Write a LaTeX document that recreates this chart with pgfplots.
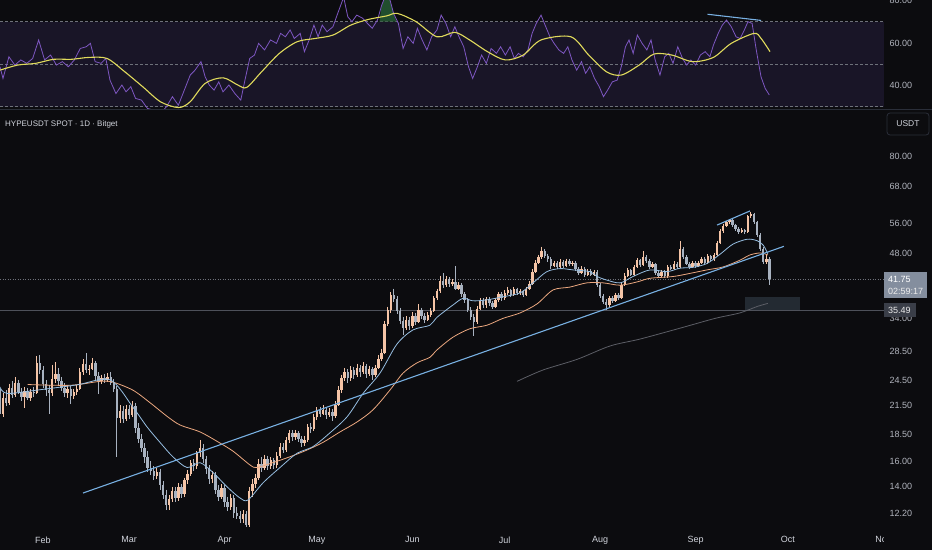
\documentclass[border=0pt]{standalone}
\usepackage{pgfplots}
\usepackage{pgfplotstable}
\pgfplotsset{compat=1.18}
\usepackage{fontspec}
\setmainfont{Liberation Sans}

\definecolor{bg}{RGB}{12,12,15}
\definecolor{upc}{RGB}{245,196,166}
\definecolor{dnc}{RGB}{168,178,192}
\definecolor{band}{RGB}{25,21,39}
\definecolor{rsic}{RGB}{126,87,194}
\definecolor{rsima}{RGB}{224,218,92}
\definecolor{tickc}{RGB}{178,181,190}
\definecolor{labc}{RGB}{209,212,220}
\definecolor{maone}{RGB}{150,190,225}
\definecolor{matwo}{RGB}{236,168,128}
\definecolor{mathree}{RGB}{92,94,102}
\definecolor{trend}{RGB}{120,176,226}
\definecolor{sepc}{RGB}{42,46,57}
\definecolor{lvl}{RGB}{110,113,122}
\definecolor{lvltwo}{RGB}{78,81,90}
\definecolor{zonec}{RGB}{40,48,57}
\definecolor{lastc}{RGB}{132,142,158}
\definecolor{boxtwo}{RGB}{58,62,72}
\definecolor{ob}{RGB}{36,86,50}

\pgfplotstableread{
d o h l c
-14 23.4 24.0 19.9 20.6
-13 20.6 22.9 20.2 22.4
-12 22.4 23.3 21.4 21.8
-11 21.8 24.1 21.5 23.6
-10 23.6 24.4 22.3 22.7
-9 22.7 25.0 22.5 24.2
-8 24.2 24.6 22.8 23.1
-7 23.1 23.6 22.0 22.5
-6 22.5 23.7 21.2 23.2
-5 23.2 23.6 22.1 22.4
-4 22.4 23.5 22.0 23.1
-3 23.1 23.7 22.5 23.0
-2 23.0 27.9 22.8 26.9
-1 26.9 28.0 25.4 25.9
0 25.9 26.4 23.6 24.1
1 24.1 24.6 22.6 23.3
2 23.3 24.0 20.6 22.9
3 22.9 26.6 22.6 24.7
4 24.7 27.0 24.2 25.4
5 25.4 26.2 24.0 24.5
6 24.5 25.0 23.2 23.6
7 23.6 24.2 22.5 22.9
8 22.9 23.9 22.4 23.4
9 23.4 23.8 21.7 22.6
10 22.6 23.5 22.2 23.1
11 23.1 24.0 22.7 23.5
12 23.5 26.2 23.3 25.7
13 25.7 27.4 25.3 26.7
14 26.7 28.3 25.5 25.9
15 25.9 26.6 25.2 26.1
16 26.1 27.6 25.9 26.9
17 26.9 27.2 24.5 25.1
18 25.1 25.6 22.8 24.5
19 24.5 25.3 24.1 24.9
20 24.9 25.4 24.2 24.6
21 24.6 25.5 24.3 25.0
22 25.0 25.6 23.9 24.2
23 24.2 24.7 23.1 23.5
24 23.5 23.8 16.4 20.1
25 20.1 21.5 19.6 20.9
26 20.9 21.4 19.6 20.0
27 20.0 21.6 19.8 21.1
28 21.1 21.5 20.0 20.4
29 20.4 22.0 20.2 21.4
30 21.4 21.8 18.6 19.1
31 19.1 19.6 17.6 18.0
32 18.0 18.5 16.8 17.2
33 17.2 17.6 15.9 16.4
34 16.4 16.9 15.1 15.5
35 15.5 16.0 14.9 15.2
36 15.2 15.6 14.5 14.8
37 14.8 15.5 14.6 15.1
38 15.1 15.4 13.8 14.1
39 14.1 14.4 13.1 13.4
40 13.4 13.8 12.4 12.7
41 12.7 13.4 12.4 13.1
42 13.1 14.0 12.9 13.7
43 13.7 14.0 12.9 13.2
44 13.2 14.3 13.0 14.0
45 14.0 14.2 13.2 13.5
46 13.5 14.7 13.3 14.5
47 14.5 15.3 14.2 15.0
48 15.0 16.1 14.8 15.9
49 15.9 16.2 15.2 15.6
50 15.6 16.9 15.4 16.7
51 16.7 17.9 16.4 17.2
52 17.2 17.5 15.9 16.2
53 16.2 16.5 15.0 15.4
54 15.4 15.7 14.2 14.6
55 14.6 15.2 14.3 14.9
56 14.9 15.1 13.5 13.8
57 13.8 14.1 13.0 13.3
58 13.3 14.2 13.1 13.9
59 13.9 14.1 12.6 12.9
60 12.9 13.3 12.3 12.6
61 12.6 13.5 12.4 13.2
62 13.2 13.4 11.9 12.2
63 12.2 12.6 11.8 12.0
64 12.0 12.3 11.6 11.8
65 11.8 12.4 11.6 12.1
66 12.1 12.3 11.3 11.45
67 11.45 14.0 11.3 13.7
68 13.7 14.6 13.3 14.2
69 14.2 15.0 13.9 14.7
70 14.7 16.2 14.5 15.8
71 15.8 16.4 15.1 15.5
72 15.5 16.6 15.3 16.2
73 16.2 16.5 15.3 15.6
74 15.6 16.4 15.4 16.1
75 16.1 16.3 15.4 15.7
76 15.7 16.8 15.5 16.5
77 16.5 17.6 16.3 17.3
78 17.3 17.6 16.7 17.0
79 17.0 18.2 16.8 17.9
80 17.9 18.9 17.6 18.6
81 18.6 18.9 17.8 18.2
82 18.2 18.9 17.9 18.6
83 18.6 18.8 17.7 18.0
84 18.0 18.3 17.3 17.6
85 17.6 18.3 17.4 17.9
86 17.9 19.5 17.7 19.2
87 19.2 19.6 18.6 19.0
88 19.0 20.6 18.8 20.2
89 20.2 21.3 19.9 21.0
90 21.0 21.3 20.2 20.6
91 20.6 21.6 20.4 21.0
92 21.0 21.2 20.0 20.4
93 20.4 21.2 20.2 20.8
94 20.8 21.1 19.8 20.3
95 20.3 22.0 20.1 21.6
96 21.6 23.8 21.4 23.3
97 23.3 25.3 23.0 24.8
98 24.8 26.2 24.4 25.6
99 25.6 26.0 24.2 24.8
100 24.8 26.4 24.5 25.9
101 25.9 26.3 24.7 25.2
102 25.2 26.8 25.0 26.2
103 26.2 26.6 25.0 25.6
104 25.6 27.0 25.4 26.4
105 26.4 26.7 24.9 25.4
106 25.4 26.5 25.1 26.0
107 26.0 26.3 24.6 25.2
108 25.2 26.6 25.0 26.2
109 26.2 28.0 26.0 27.5
110 27.5 29.0 27.2 28.4
111 28.4 33.6 28.2 33.0
112 33.0 36.2 32.6 35.5
113 35.5 39.0 35.0 38.4
114 38.4 39.8 37.0 37.6
115 37.6 38.2 34.8 35.4
116 35.4 36.0 33.0 33.6
117 33.6 34.3 31.2 32.4
118 32.4 34.4 32.0 33.8
119 33.8 34.2 32.0 32.6
120 32.6 35.1 32.3 34.5
121 34.5 35.0 32.9 33.4
122 33.4 36.6 33.2 35.6
123 35.6 36.0 33.9 34.4
124 34.4 35.0 33.2 33.8
125 33.8 35.2 33.5 34.6
126 34.6 35.9 34.2 35.4
127 35.4 38.3 35.1 37.8
128 37.8 39.8 37.4 39.2
129 39.2 42.6 38.9 41.5
130 41.5 43.2 40.0 40.6
131 40.6 42.4 40.2 41.8
132 41.8 42.2 40.2 40.8
133 40.8 41.8 40.4 41.2
134 41.2 44.8 39.4 39.8
135 39.8 41.2 39.4 40.6
136 40.6 41.0 38.0 38.6
137 38.6 39.0 36.8 37.4
138 37.4 37.8 35.2 35.6
139 35.6 36.1 33.8 34.2
140 34.2 34.8 31.0 33.4
141 33.4 36.3 33.1 35.8
142 35.8 37.9 35.5 37.3
143 37.3 37.8 35.9 36.4
144 36.4 38.1 36.0 37.6
145 37.6 38.0 36.3 36.8
146 36.8 37.3 35.7 36.2
147 36.2 37.9 36.0 37.4
148 37.4 39.1 37.1 38.6
149 38.6 39.0 37.3 37.8
150 37.8 39.4 37.5 38.9
151 38.9 40.2 38.5 39.4
152 39.4 39.8 38.0 38.4
153 38.4 40.1 38.2 39.6
154 39.6 40.0 38.4 38.8
155 38.8 39.7 38.5 39.2
156 39.2 39.5 38.0 38.5
157 38.5 40.2 38.3 39.8
158 39.8 41.3 39.5 40.8
159 40.8 44.0 40.6 43.4
160 43.4 46.2 43.1 45.6
161 45.6 47.6 45.2 47.0
162 47.0 49.6 46.6 48.4
163 48.4 48.9 46.8 47.3
164 47.3 47.8 45.8 46.4
165 46.4 46.9 44.2 44.9
166 44.9 46.1 44.5 45.6
167 45.6 46.0 44.0 44.5
168 44.5 46.4 44.2 45.8
169 45.8 46.3 44.3 44.8
170 44.8 46.6 44.5 46.0
171 46.0 46.5 44.7 45.2
172 45.2 46.1 44.9 45.6
173 45.6 46.0 43.6 44.0
174 44.0 44.5 42.7 43.2
175 43.2 44.8 42.9 44.2
176 44.2 44.6 42.3 42.8
177 42.8 44.1 42.5 43.6
178 43.6 44.0 42.4 42.8
179 42.8 43.9 42.5 43.4
180 43.4 43.8 40.2 40.6
181 40.6 41.0 37.8 38.2
182 38.2 38.7 36.6 37.0
183 37.0 37.6 35.6 36.5
184 36.5 38.3 36.2 37.8
185 37.8 38.2 36.8 37.2
186 37.2 38.9 37.0 38.4
187 38.4 38.8 37.4 37.8
188 37.8 41.0 37.6 40.6
189 40.6 43.1 40.3 42.6
190 42.6 44.3 42.3 43.8
191 43.8 44.2 42.4 42.8
192 42.8 45.1 42.5 44.6
193 44.6 46.8 44.3 46.2
194 46.2 46.6 44.6 45.0
195 45.0 48.4 44.8 47.0
196 47.0 47.4 45.6 46.0
197 46.0 46.4 44.2 44.6
198 44.6 45.7 44.3 45.2
199 45.2 45.6 42.8 43.2
200 43.2 43.6 42.1 42.6
201 42.6 43.9 42.3 43.4
202 43.4 43.8 42.0 42.4
203 42.4 45.1 42.1 44.6
204 44.6 45.0 43.8 44.2
205 44.2 45.9 43.9 45.4
206 45.4 45.8 44.2 44.6
207 44.6 51.0 44.4 49.0
208 49.0 49.5 46.6 47.0
209 47.0 47.4 45.0 45.4
210 45.4 45.8 44.2 44.6
211 44.6 46.1 44.3 45.6
212 45.6 46.0 44.4 44.8
213 44.8 46.1 44.5 45.6
214 45.6 47.1 45.3 46.6
215 46.6 47.0 45.2 45.6
216 45.6 47.7 45.4 47.2
217 47.2 47.6 46.0 46.4
218 46.4 48.1 46.1 47.6
219 47.6 51.2 47.3 50.6
220 50.6 54.4 50.2 53.8
221 53.8 56.0 53.4 55.4
222 55.4 56.9 55.0 56.4
223 56.4 57.4 55.8 57.0
224 57.0 57.4 55.0 55.6
225 55.6 56.0 54.0 54.6
226 54.6 55.0 53.0 53.6
227 53.6 54.8 53.2 54.2
228 54.2 54.6 53.0 53.6
229 53.6 58.6 53.3 58.2
230 58.2 59.6 57.6 59.0
231 59.0 59.4 55.8 56.4
232 56.4 56.9 52.2 52.8
233 52.8 53.3 48.4 49.0
234 49.0 49.5 45.2 45.8
235 45.8 47.4 45.4 46.6
236 46.6 47.0 40.5 41.75
}\candles

\pgfplotstableread{
d p
-14 23.7
-11.7 22.9
-2 23.3
11 23.95
21.8 24.6
29.2 21.3
33.8 19.2
38 17.7
42.2 16.4
46.8 15.5
51 15.9
55.2 15.1
59.8 14.0
64 13.2
66.6 13.06
71.5 14.3
77 15.5
82.5 16.7
87.7 17.3
93.2 18.6
98.8 20.25
104 22.9
109.5 25.5
115 29.7
120.2 32.0
125.7 32.8
128 34.2
133.2 36.5
136.5 37.8
139.7 37.3
144.2 37.5
149.4 38.1
155 38.9
159.2 41.0
163.7 43.5
168 44.2
172.2 43.9
177.7 43.5
180 42.4
183.2 41.6
187.5 41.0
191.7 42.4
197.2 43.9
202.7 43.5
207 44.3
211.2 44.5
215.7 45.4
220 47.7
224.2 50.3
228.8 51.6
232 51.2
234 50.0
235.5 47.8
}\maA

\pgfplotstableread{
d p
-5 24.0
8.8 23.9
18.5 24.4
22.7 24.3
29.2 23.3
34.8 21.8
40.3 20.3
44.5 19.4
51 18.7
56.5 17.8
61.7 16.9
67.3 15.7
69.5 15.5
74.7 15.9
80.2 16.4
85.8 17.0
91 17.7
96.5 18.7
102 19.7
107.2 21.0
112.7 23.3
117 25.5
121.5 26.9
125.7 27.7
128 28.8
133.2 30.8
138.7 32.2
144.2 32.8
149.4 34.0
155 35.0
160.5 36.7
165.7 39.5
171.2 40.1
176.7 41.0
182 41.0
187.5 40.5
193 41.2
197.2 42.0
204.7 42.4
210.2 43.1
215.7 43.9
221 44.6
226.4 46.2
229.7 47.5
233 48.0
235.5 47.5
}\maB

\pgfplotstableread{
d p
154 24.4
162.4 25.9
173.5 27.4
184.2 29.4
194 30.5
207 32.3
218.3 34.0
226.4 35.0
232 36.2
235.5 36.8
}\maC

\pgfplotstableread{
d p
13.0 13.55
240.7 49.7
}\trA

\pgfplotstableread{
d p
219 55.6
229.7 59.9
}\trB

\pgfplotstableread{
d a b
-13.97 41.75 35.49
273.23 41.75 35.49
}\levels

\pgfplotstableread{
d p
228.1 35.49
245.9 35.49
245.9 38.0
228.1 38.0
}\zone

\pgfplotstableread{
d r
-13.97 48.8
-13.0 43.3
-11.07 53.5
-9.14 49.6
-7.21 52.0
-5.28 50.4
-3.35 52.7
-1.41 61.4
0.52 52.0
2.45 54.3
4.38 49.6
6.31 51.2
8.24 48.8
10.18 52.0
12.1 57.4
14.04 58.2
15.39 59.8
16.94 51.2
18.87 50.4
20.41 52.7
21.76 42.5
23.7 36.2
25.63 40.2
26.98 37.0
28.53 39.4
30.07 33.9
32.0 33.1
33.93 29.2
35.87 28.4
38.18 26.8
40.11 30.0
42.05 34.7
43.98 30.7
45.91 37.8
47.84 44.9
49.39 47.2
51.32 51.2
52.67 44.1
54.02 40.2
55.57 37.8
57.11 41.7
58.47 37.0
60.4 40.2
62.33 36.2
64.26 33.1
65.61 42.5
67.16 52.7
68.7 54.3
70.05 59.8
71.98 56.7
73.92 61.4
75.85 59.8
77.2 64.5
78.75 62.9
80.29 66.1
81.64 62.1
83.57 64.5
84.93 55.9
86.47 61.4
88.02 68.4
89.37 62.9
90.72 68.4
92.27 65.3
94.2 67.6
95.75 73.9
97.68 81.5
99.03 72.3
100.38 70.0
101.93 73.1
103.86 71.6
105.4 69.2
106.95 66.9
108.68 70.8
110.04 77.8
111.2 82.0
112.74 80.2
113.9 73.9
115.45 69.2
116.99 57.4
118.54 62.9
120.28 59.8
121.63 66.9
123.17 61.4
124.72 56.7
126.26 62.9
128.0 66.1
129.35 73.1
130.9 69.2
132.45 62.9
133.8 67.6
135.15 62.9
136.69 58.2
138.24 48.8
139.59 43.3
141.13 48.8
142.49 54.3
144.03 50.4
145.58 57.4
147.32 55.1
148.67 58.2
150.22 54.3
151.76 58.2
153.12 52.7
154.47 55.1
156.01 53.5
157.56 56.7
158.91 64.5
160.26 69.2
161.81 73.1
163.35 67.6
164.7 62.9
166.05 59.8
167.6 56.7
169.14 55.1
170.5 58.2
171.85 52.0
173.39 47.2
174.94 51.2
176.29 45.7
177.64 48.8
179.19 43.3
180.73 39.4
182.08 34.7
183.44 37.8
184.98 41.7
186.53 42.5
187.88 48.8
189.23 58.2
190.39 61.4
191.74 55.1
193.1 63.7
194.64 59.8
196.19 56.7
197.54 61.4
198.89 52.0
200.44 44.9
201.98 53.5
203.33 55.1
204.69 50.4
206.23 58.2
207.78 52.7
209.13 49.6
210.48 52.0
212.03 49.6
213.57 54.3
215.12 55.9
216.66 53.5
217.82 59.0
219.37 64.5
220.72 68.4
222.07 70.8
223.62 67.6
225.16 62.9
226.51 62.1
227.87 66.1
229.03 70.0
230.38 69.2
231.73 56.7
233.27 44.1
234.63 38.6
235.98 35.5
}\rsi

\pgfplotstableread{
d r
-13.97 47.2
-8.18 49.6
-2.38 50.4
3.41 52.3
9.21 52.3
15.0 53.2
20.8 52.7
26.6 46.4
32.4 39.4
38.2 32.3
44.0 29.6
47.8 32.3
52.7 41.0
58.5 43.6
63.3 40.2
66.2 39.1
71.0 46.4
76.8 55.1
82.6 60.6
88.4 62.1
94.2 63.7
100.0 68.4
105.8 71.1
111.6 72.7
115.1 73.9
121.2 70.0
128.0 62.9
133.8 65.0
138.6 61.4
144.4 55.9
150.2 52.0
156.0 54.3
161.8 61.4
171.5 62.9
177.3 54.3
183.1 46.4
187.9 44.9
193.7 49.6
198.5 54.8
204.3 54.3
211.1 51.2
217.8 53.2
223.6 59.8
231.0 64.5
233.3 62.1
236.2 55.9
}\rsiMA

\begin{document}
\begin{tikzpicture}
\fill[bg] (0pt,0pt) rectangle (932pt,550pt);

% ---------------- RSI pane ----------------
\begin{axis}[at={(0pt,440pt)}, anchor=south west, width=884pt, height=110pt,
  scale only axis, xmin=-13.97, xmax=273.23, ymin=28.45, ymax=80.21,
  axis line style={draw=none}, major tick length=0pt, tick style={draw=none},
  xtick=\empty, ytick={40,60,80},
  yticklabels={\mbox{40.00},\mbox{60.00},\mbox{80.00}},
  yticklabel pos=right,
  yticklabel style={font=\fontsize{9}{10}\selectfont, text=tickc, anchor=west, xshift=2pt}]
\addplot[fill=band, draw=none] coordinates {(-13.97,30) (273.23,30) (273.23,70) (-13.97,70)};
\addplot[lvl, dash pattern=on 2.5pt off 2.5pt, line width=0.7pt] coordinates {(-13.97,70) (273.23,70)};
\addplot[lvl, dash pattern=on 2.5pt off 2.5pt, line width=0.7pt] coordinates {(-13.97,50) (273.23,50)};
\addplot[lvl, dash pattern=on 2.5pt off 2.5pt, line width=0.7pt] coordinates {(-13.97,30) (273.23,30)};
\addplot[fill=ob, draw=none, fill opacity=0.9] coordinates {(109.3,70) (110.04,77.8) (111.2,82.0) (112.74,80.2) (113.9,73.9) (114.8,70)};
\addplot[rsic, line width=0.8pt] table[x=d,y=r] {\rsi};
\addplot[rsima, line width=1.1pt, smooth] table[x=d,y=r] {\rsiMA};
\addplot[trend, line width=1.1pt] coordinates {(215.9,73.5) (233.3,70.6)};
\end{axis}

% ---------------- Price pane ----------------
\begin{axis}[at={(0pt,20pt)}, anchor=south west, width=884pt, height=418pt,
  scale only axis, xmin=-13.97, xmax=273.23, ymin=2.4115, ymax=4.6138,
  axis line style={draw=none}, major tick length=0pt, tick style={draw=none},
  xtick={0,28,59,89,120,150,181,212,242,273},
  xticklabels={Feb,Mar,Apr,May,Jun,Jul,Aug,Sep,Oct,Nov},
  xticklabel style={font=\fontsize{9}{10}\selectfont, text=labc, yshift=-3pt},
  ytick={2.50144,2.63906,2.77259,2.91777,3.06805,3.19867,3.34990,3.52636,3.87120,4.02535,4.21951,4.38203},
  yticklabels={\mbox{12.20},\mbox{14.00},\mbox{16.00},\mbox{18.50},\mbox{21.50},\mbox{24.50},\mbox{28.50},\mbox{34.00},\mbox{48.00},\mbox{56.00},\mbox{68.00},\mbox{80.00}},
  yticklabel pos=right,
  yticklabel style={font=\fontsize{9}{10}\selectfont, text=tickc, anchor=west, xshift=2pt}]

\addplot[lvltwo, line width=0.7pt] table[x=d, y expr=ln(\thisrow{b})] {\levels};
\addplot[lvl, line width=0.6pt, dash pattern=on 1pt off 1.5pt] table[x=d, y expr=ln(\thisrow{a})] {\levels};
\addplot[fill=zonec, draw=none, fill opacity=0.85] table[x=d, y expr=ln(\thisrow{p})] {\zone};

% wicks
\addplot[draw=none, mark=none, error bars/.cd, y dir=minus, y explicit, error mark=none,
  error bar style={draw=dnc, line width=0.9pt, solid}]
  table[x=d, y expr={\thisrow{c}<\thisrow{o} ? ln(\thisrow{h}) : nan},
        y error minus expr={ln(\thisrow{h})-ln(\thisrow{l})}] {\candles};
\addplot[draw=none, mark=none, error bars/.cd, y dir=minus, y explicit, error mark=none,
  error bar style={draw=upc, line width=0.9pt, solid}]
  table[x=d, y expr={\thisrow{c}>=\thisrow{o} ? ln(\thisrow{h}) : nan},
        y error minus expr={ln(\thisrow{h})-ln(\thisrow{l})}] {\candles};
% bodies
\addplot[draw=none, mark=none, error bars/.cd, y dir=minus, y explicit, error mark=none,
  error bar style={draw=dnc, line width=2.4pt, solid}]
  table[x=d, y expr={\thisrow{c}<\thisrow{o} ? ln(\thisrow{o}) : nan},
        y error minus expr={ln(\thisrow{o})-ln(\thisrow{c})}] {\candles};
\addplot[draw=none, mark=none, error bars/.cd, y dir=minus, y explicit, error mark=none,
  error bar style={draw=upc, line width=2.4pt, solid}]
  table[x=d, y expr={\thisrow{c}>=\thisrow{o} ? ln(\thisrow{c}) : nan},
        y error minus expr={ln(\thisrow{c})-ln(\thisrow{o})}] {\candles};

\addplot[mathree, line width=0.8pt, smooth] table[x=d, y expr=ln(\thisrow{p})] {\maC};
\addplot[matwo, line width=0.8pt, smooth] table[x=d, y expr=ln(\thisrow{p})] {\maB};
\addplot[maone, line width=0.8pt, smooth] table[x=d, y expr=ln(\thisrow{p})] {\maA};
\addplot[trend, line width=1.1pt] table[x=d, y expr=ln(\thisrow{p})] {\trA};
\addplot[trend, line width=1.1pt] table[x=d, y expr=ln(\thisrow{p})] {\trB};
\end{axis}

% clip the cut-off month label under the price scale
\fill[bg] (884pt,0pt) rectangle (932pt,19pt);

% pane separator
\draw[sepc, line width=1pt] (0pt,440pt) -- (932pt,440pt);

% header text
\node[anchor=west, inner sep=0pt, font=\fontsize{8}{9}\selectfont, text=labc] at (5pt,425.5pt) {HYPEUSDT SPOT · 1D · Bitget};
\draw[sepc, line width=0.8pt, rounded corners=3pt, fill=bg] (887pt,415pt) rectangle (929pt,437pt);
\node[font=\fontsize{8.5}{9}\selectfont, text=labc] at (908pt,426pt) {USDT};

% price labels
\fill[lastc] (884pt,252pt) rectangle (927pt,278pt);
\node[anchor=west, inner sep=0pt, font=\fontsize{9}{10}\selectfont, text=white] at (888pt,271pt) {41.75};
\node[anchor=west, inner sep=0pt, font=\fontsize{9}{10}\selectfont, text=white!92!black] at (888pt,258.5pt) {02:59:17};
\fill[boxtwo] (884pt,233pt) rectangle (916pt,247pt);
\node[anchor=west, inner sep=0pt, font=\fontsize{9}{10}\selectfont, text=white!92!black] at (888pt,240pt) {35.49};

\pgfresetboundingbox
\useasboundingbox (0pt,0pt) rectangle (932pt,550pt);
\end{tikzpicture}
\end{document}
